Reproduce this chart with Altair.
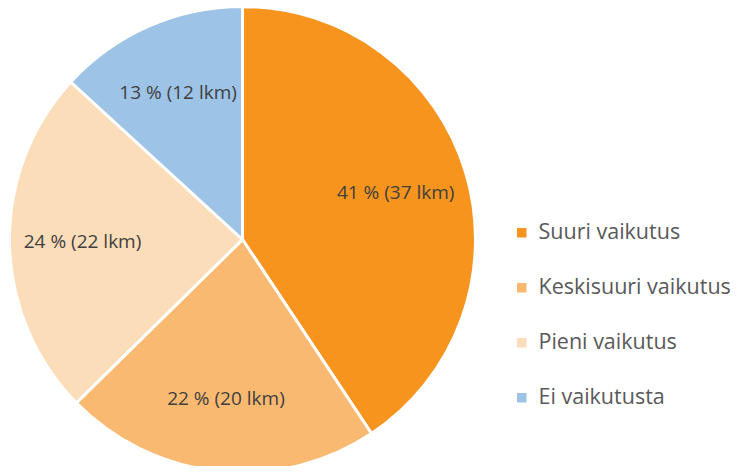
import altair as alt
import pandas as pd

categories = ["Suuri vaikutus", "Keskisuuri vaikutus", "Pieni vaikutus", "Ei vaikutusta"]
counts = [37, 20, 22, 12]
percent_labels = ["41 % (37 lkm)", "22 % (20 lkm)", "24 % (22 lkm)", "13 % (12 lkm)"]
colors = ["#F7941D", "#F9B970", "#FCDDBA", "#9DC3E6"]

df = pd.DataFrame({
    "Luokka": categories,
    "lkm": counts,
    "label": percent_labels,
    "order": list(range(len(categories))),
})

CX, CY, R = 234.5, 231.5, 233

base = alt.Chart(df).encode(
    theta=alt.Theta("lkm:Q", stack=True),
    order=alt.Order("order:Q"),
    x=alt.value(CX),
    y=alt.value(CY),
)

arcs = base.mark_arc(outerRadius=R, stroke="white", strokeWidth=3).encode(
    color=alt.Color(
        "Luokka:N",
        scale=alt.Scale(domain=categories, range=colors),
        sort=categories,
        legend=alt.Legend(
            title=None,
            orient="none",
            legendX=503,
            legendY=214,
            symbolType="square",
            symbolSize=90,
            symbolStrokeWidth=0,
            labelFontSize=21.5,
            labelFont="Open Sans",
            labelColor="#595959",
            rowPadding=32,
            labelOffset=6,
            labelLimit=300,
        ),
    )
)

texts = base.mark_text(radius=160, fontSize=19, font="Open Sans", color="#404040").encode(
    text="label:N"
)

chart = (
    alt.layer(arcs, texts)
    .properties(width=731, height=458, autosize=alt.AutoSizeParams(type="none"), padding=0)
    .configure_view(stroke=None)
)

chart.save("out.html", embed_options={"renderer": "svg", "actions": False})
